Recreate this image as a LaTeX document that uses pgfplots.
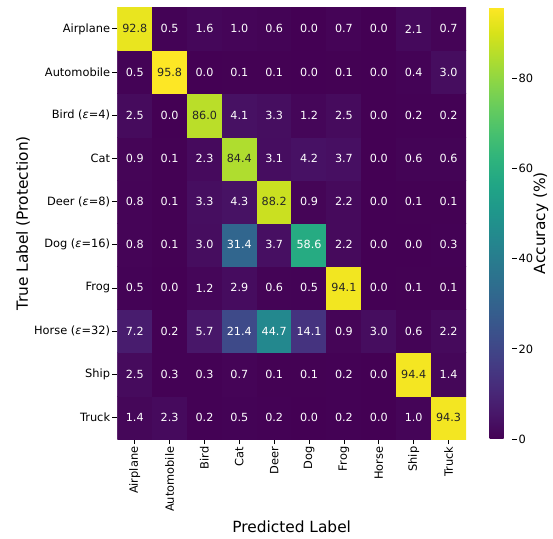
\documentclass[border=0pt]{standalone}
\usepackage{pgfplots}
\pgfplotsset{compat=1.18}
\usepackage{pgfplotstable}
\usepackage{fontspec}
\setmainfont{DejaVu Sans}
\definecolor{darktext}{RGB}{38,38,38}
% rows: y=0 Truck ... y=9 Airplane ; x = predicted class
\pgfplotstableread{
x y c
0 0 1.4
1 0 2.3
2 0 0.2
3 0 0.5
4 0 0.2
5 0 0.0
6 0 0.2
7 0 0.0
8 0 1.0
9 0 94.3
0 1 2.5
1 1 0.3
2 1 0.3
3 1 0.7
4 1 0.1
5 1 0.1
6 1 0.2
7 1 0.0
8 1 94.4
9 1 1.4
0 2 7.2
1 2 0.2
2 2 5.7
3 2 21.4
4 2 44.7
5 2 14.1
6 2 0.9
7 2 3.0
8 2 0.6
9 2 2.2
0 3 0.5
1 3 0.0
2 3 1.2
3 3 2.9
4 3 0.6
5 3 0.5
6 3 94.1
7 3 0.0
8 3 0.1
9 3 0.1
0 4 0.8
1 4 0.1
2 4 3.0
3 4 31.4
4 4 3.7
5 4 58.6
6 4 2.2
7 4 0.0
8 4 0.0
9 4 0.3
0 5 0.8
1 5 0.1
2 5 3.3
3 5 4.3
4 5 88.2
5 5 0.9
6 5 2.2
7 5 0.0
8 5 0.1
9 5 0.1
0 6 0.9
1 6 0.1
2 6 2.3
3 6 84.4
4 6 3.1
5 6 4.2
6 6 3.7
7 6 0.0
8 6 0.6
9 6 0.6
0 7 2.5
1 7 0.0
2 7 86.0
3 7 4.1
4 7 3.3
5 7 1.2
6 7 2.5
7 7 0.0
8 7 0.2
9 7 0.2
0 8 0.5
1 8 95.8
2 8 0.0
3 8 0.1
4 8 0.1
5 8 0.0
6 8 0.1
7 8 0.0
8 8 0.4
9 8 3.0
0 9 92.8
1 9 0.5
2 9 1.6
3 9 1.0
4 9 0.6
5 9 0.0
6 9 0.7
7 9 0.0
8 9 2.1
9 9 0.7
}\cmtable
\pgfplotsset{
  cellnum/.style={only marks, mark=none, point meta=explicit,
    nodes near coords={\pgfmathprintnumber[fixed,fixed zerofill,precision=1]{\pgfplotspointmeta}},
    every node near coord/.append style={anchor=center, font=\fontsize{11.2bp}{13bp}\selectfont}},
}
\begin{document}
\begin{tikzpicture}
\path (-117.3bp,-100bp) rectangle (435.7bp,439bp);
\begin{axis}[
  scale only axis, width=348.7bp, height=431.7bp,
  at={(0,0)}, anchor=south west,
  xmin=-0.5, xmax=9.5, ymin=-0.5, ymax=9.5,
  axis line style={draw=none},
  tick align=outside, major tick length=5bp,
  tick style={black, line width=0.8bp},
  xtick={0,...,9}, ytick={0,...,9},
  xtick pos=left, ytick pos=left,
  xticklabels={Airplane,Automobile,Bird,Cat,Deer,Dog,Frog,Horse,Ship,Truck},
  yticklabels={Truck,Ship,Horse (\textit{ε}=32),Frog,Dog (\textit{ε}=16),Deer (\textit{ε}=8),Cat,Bird (\textit{ε}=4),Automobile,Airplane},
  tick label style={font=\fontsize{11.4bp}{13bp}\selectfont},
  xticklabel style={rotate=90, anchor=east, inner sep=2.5bp},
  yticklabel style={inner sep=2bp},
  xlabel={Predicted Label}, ylabel={True Label (Protection)},
  label style={font=\fontsize{15.4bp}{18bp}\selectfont},
  xlabel style={at={(axis description cs:0.5,-0.203)}, anchor=center},
  ylabel style={at={(axis description cs:-0.27,0.5)}, anchor=center},
  colormap/viridis, point meta min=0, point meta max=95.8,
  colorbar,
  colorbar style={
    at={(parent axis.north east)}, anchor=north west, xshift=15bp,
    width=22bp,
    axis line style={draw=none},
    ytick={0,20,40,60,80},
    ytick pos=right, yticklabel pos=right,
    tick align=outside, major tick length=5bp,
    tick style={black, line width=0.8bp},
    yticklabel style={font=\fontsize{11.4bp}{13bp}\selectfont, inner sep=2bp},
    ylabel={Accuracy (\%)},
    ylabel style={font=\fontsize{15.4bp}{18bp}\selectfont, at={(axis description cs:2.33,0.5)}, anchor=center},
    /pgf/number format/assume math mode=true,
  },
  /pgf/number format/assume math mode=true,
]
\addplot[matrix plot*, mesh/cols=10, point meta=explicit] table[x=x, y=y, meta=c] {\cmtable};
\addplot[cellnum, every node near coord/.append style={text=white},
  y filter/.expression={\thisrow{c}>70 ? nan : y}] table[x=x, y=y, meta=c] {\cmtable};
\addplot[cellnum, every node near coord/.append style={text=darktext},
  y filter/.expression={\thisrow{c}>70 ? y : nan}] table[x=x, y=y, meta=c] {\cmtable};
\end{axis}
\end{tikzpicture}
\end{document}
